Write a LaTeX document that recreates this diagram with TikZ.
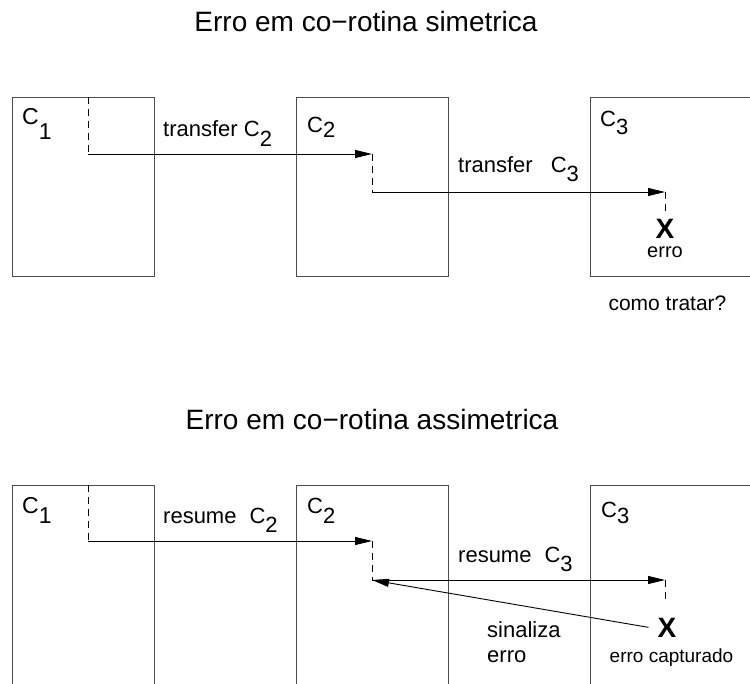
\documentclass[tikz,border=0pt]{standalone}
\usepackage{fontspec}
\setmainfont{Liberation Sans}
\usetikzlibrary{arrows.meta}

% C with a lowered index, as the figure sets it
\newcommand{\Csub}[2]{C\raisebox{-#1}{#2}}

\begin{document}
\begin{tikzpicture}[x=1pt, y=-1pt,
    cobox/.style={draw=black!70, line width=1.2pt, anchor=north west,
        inner sep=0pt, minimum height=#1},
    flow/.style={line width=0.9pt, -{Triangle[length=17pt, width=8pt]}},
    hop/.style={line width=0.8pt, dash pattern=on 7pt off 5pt},
    lbl/.style={anchor=base west, inner sep=0pt, font=\fontsize{#1}{#1}\selectfont},
    lbl/.default=22,
    note/.style={anchor=base, inner sep=0pt, font=\fontsize{#1}{#1}\selectfont},
    note/.default=19,
    errx/.style={anchor=base, inner ysep=0pt, inner xsep=9pt,
        font=\fontsize{28}{28}\selectfont\bfseries}]

\useasboundingbox (0,0) rectangle (750,684);
\clip (0,0) rectangle (750,684);

% simetrica
\node(title)[note=28] at (366, 32) {Erro em co−rotina simetrica};

\node(u1)[cobox=179pt, minimum width=142pt] at (12, 97) {};
\node(u2)[cobox=179pt, minimum width=152pt] at (296, 97) {};
\node(u3)[cobox=179pt, minimum width=300pt] at (590, 97) {};

\node(n1)[lbl=23] at (22, 125) {\Csub{15pt}{1}};
\node(n2)[lbl] at (307, 133) {\Csub{5pt}{2}};
\node(n3)[lbl] at (600, 127) {\Csub{8pt}{3}};

\coordinate(a1) at (88, 97);
\coordinate(a2) at (88, 154);
\coordinate(a3) at (372, 154);
\coordinate(a4) at (372, 192);
\coordinate(a5) at (665, 192);
\coordinate(a6) at (665, 213);

\draw[hop] (a1)--(a2);
\draw[flow] (a2)--(a3);
\draw[hop] (a3)--(a4);
\draw[flow] (a4)--(a5);
\draw[hop] (a5)--(a6);

\node(text1)[lbl] at (163, 137) {transfer \Csub{10pt}{2}};
\node(text2)[lbl] at (458, 173) {transfer\hspace{18pt}\Csub{9pt}{3}};
\node(xt)[errx] at (665, 239) {X};
\node(text3)[note=20] at (665, 258) {erro};
\node(text4)[note=21] at (667.5, 311) {como tratar?};

% assimetrica
\node(title2)[note=28] at (372, 430) {Erro em co−rotina assimetrica};

\node(v1)[cobox=230pt, minimum width=142pt] at (12, 485) {};
\node(v2)[cobox=230pt, minimum width=152pt] at (296, 485) {};
\node(v3)[cobox=230pt, minimum width=300pt] at (590, 485) {};

\node(m1)[lbl=23] at (22, 513) {\Csub{10pt}{1}};
\node(m2)[lbl] at (307, 513) {\Csub{10pt}{2}};
\node(m3)[lbl] at (601, 517) {\Csub{6pt}{3}};

\coordinate(b1) at (88, 485);
\coordinate(b2) at (88, 541);
\coordinate(b3) at (372, 541);
\coordinate(b4) at (372, 580);
\coordinate(b5) at (665, 580);
\coordinate(b6) at (665, 604);

\node(xb)[errx] at (667, 637) {X};

\draw[hop] (b1)--(b2);
\draw[flow] (b2)--(b3);
\draw[hop] (b3)--(b4);
\draw[flow] (b4)--(b5);
\draw[hop] (b5)--(b6);
\draw[flow] (xb.west)--(b4);

\node(text5)[lbl] at (163, 523) {resume\hspace{13pt}\Csub{9pt}{2}};
\node(text6)[lbl] at (458, 562) {resume\hspace{13pt}\Csub{9pt}{3}};
\node(text7)[lbl] at (487, 637) {sinaliza};
\node(text8)[lbl] at (487, 662) {erro};
\node(text9)[note] at (671.5, 662) {erro capturado};
\end{tikzpicture}
\end{document}
